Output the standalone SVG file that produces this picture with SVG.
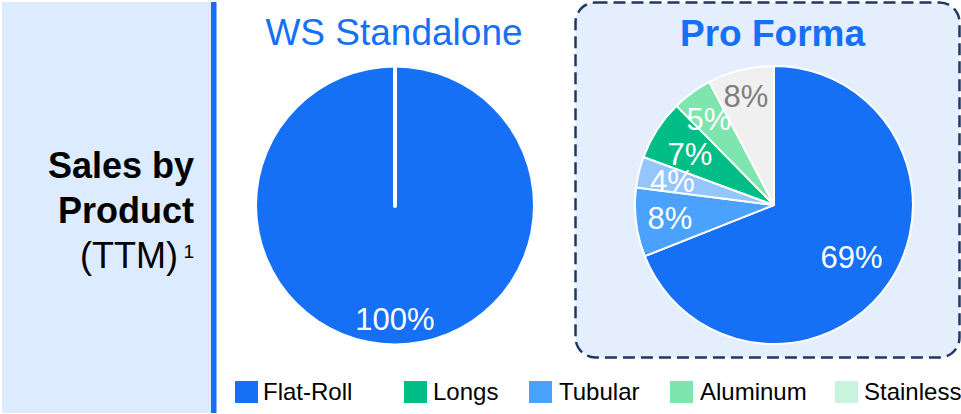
<svg xmlns="http://www.w3.org/2000/svg" width="961" height="414" viewBox="0 0 961 414">
<style>
  text { font-family: "Liberation Sans", Arial, sans-serif; }
  .side { font-size: 36px; fill: #000; }
  .title { font-size: 37px; fill: #1570F6; text-anchor: middle; }
  .lbl { font-size: 31px; fill: #fff; text-anchor: middle; }
  .leg { font-size: 24px; fill: #000; }
  .slice { stroke: #fff; stroke-width: 2; stroke-linejoin: round; }
</style>
<rect width="961" height="414" fill="#fff"/>
<g id="side-panel">
  <rect x="2" y="2" width="209" height="411" fill="#DCEBFD"/>
  <rect x="211" y="2" width="5.5" height="411" fill="#1570F6"/>
  <text class="side" x="194" y="177.5" text-anchor="end" font-weight="bold">Sales by</text>
  <text class="side" x="194" y="222.5" text-anchor="end" font-weight="bold">Product</text>
  <text class="side" x="178" y="268" text-anchor="end">(TTM)</text>
  <text x="183.5" y="258" font-size="19" fill="#000">1</text>
</g>
<g id="ws-standalone">
  <text class="title" x="394" y="45">WS Standalone</text>
  <circle cx="395" cy="205.5" r="138" fill="#1570F6"/>
  <line x1="395" y1="67" x2="395" y2="206" stroke="#fff" stroke-width="4" stroke-linecap="round"/>
  <text class="lbl" x="395" y="330">100%</text>
</g>
<g id="pro-forma">
  <rect x="575.5" y="2.5" width="384" height="355" rx="20" ry="20" fill="#E4EEFD" stroke="#1F3864" stroke-width="2.5" stroke-dasharray="12 6"/>
  <text class="title" x="772.5" y="45.5" font-weight="bold">Pro Forma</text>
  <path class="slice" fill="#1570F6" d="M774,205 L774,66 A139,139 0 1 1 644.76,256.17 Z"/>
  <path class="slice" fill="#4BA2FC" d="M774,205 L644.76,256.17 A139,139 0 0 1 636.1,187.58 Z"/>
  <path class="slice" fill="#94C6FB" d="M774,205 L636.1,187.58 A139,139 0 0 1 643.55,157 Z"/>
  <path class="slice" fill="#00BE85" d="M774,205 L643.55,157 A139,139 0 0 1 676.57,105.86 Z"/>
  <path class="slice" fill="#7FE5AE" d="M774,205 L676.57,105.86 A139,139 0 0 1 709.39,81.93 Z"/>
  <path class="slice" fill="#F0F0F0" d="M774,205 L709.39,81.93 A139,139 0 0 1 774,66 Z"/>
  <text class="lbl" x="851.5" y="268">69%</text>
  <text class="lbl" x="670" y="229">8%</text>
  <text class="lbl" x="672.5" y="191.5">4%</text>
  <text class="lbl" x="690" y="165">7%</text>
  <text class="lbl" x="709" y="130">5%</text>
  <text class="lbl" x="746" y="107" style="fill:#7F7F7F">8%</text>
</g>
<g id="legend">
  <rect x="235" y="381" width="23" height="22" fill="#1570F6"/>
  <text class="leg" x="263" y="399.5">Flat-Roll</text>
  <rect x="404" y="381" width="23" height="22" fill="#00BE85"/>
  <text class="leg" x="433" y="399.5">Longs</text>
  <rect x="529" y="381" width="23" height="22" fill="#4BA2FC"/>
  <text class="leg" x="559" y="399.5">Tubular</text>
  <rect x="670" y="381" width="23" height="22" fill="#7FE5AE"/>
  <text class="leg" x="700" y="399.5">Aluminum</text>
  <rect x="835" y="381" width="23" height="22" fill="#C8F3DD"/>
  <text class="leg" x="864" y="399.5">Stainless</text>
</g>
<g id="connectors"></g>
</svg>
